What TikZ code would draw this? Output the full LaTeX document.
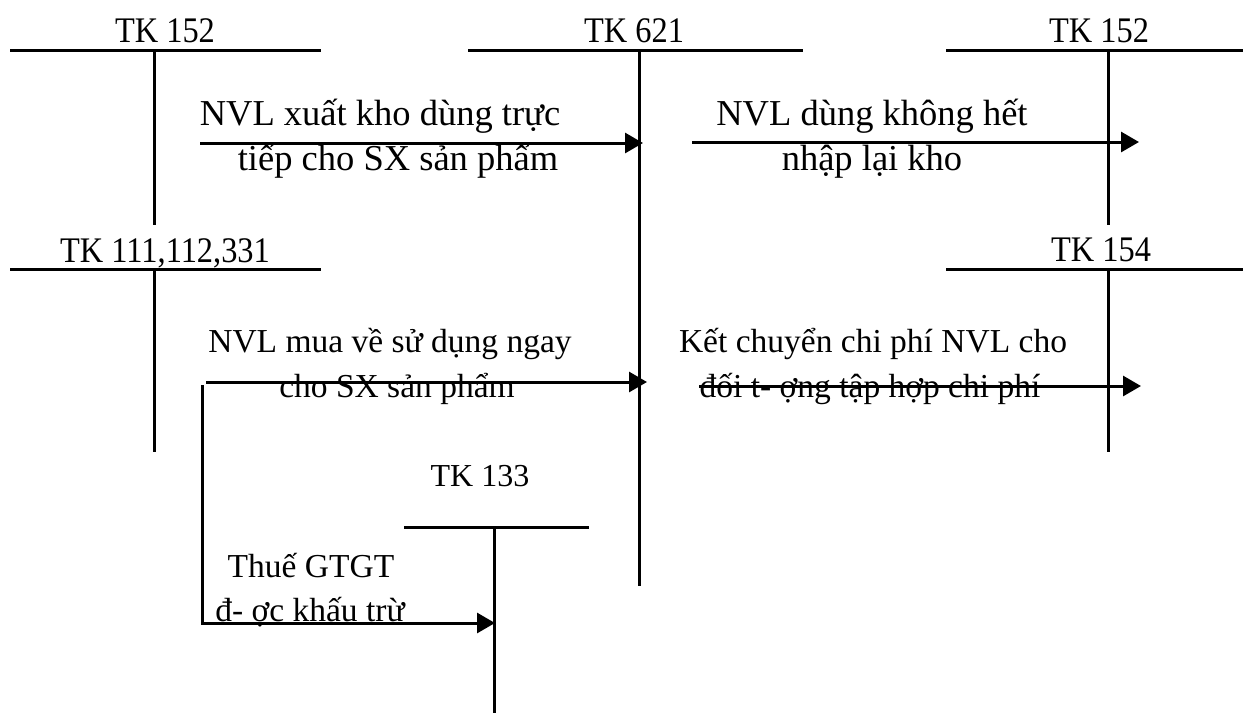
\documentclass[tikz,border=0pt]{standalone}
\usepackage{fontspec}
\setmainfont{Liberation Serif}
\usetikzlibrary{arrows.meta}
\begin{document}
\begin{tikzpicture}[x=1pt,y=-1pt,
  acct/.style={line width=3pt},
  flow/.style={line width=3pt,-{Triangle[length=18pt,width=20pt]}},
  acctname/.style={anchor=base,inner sep=0pt,font=\fontsize{36}{36}\selectfont},
  smallname/.style={anchor=base,inner sep=0pt,font=\fontsize{32}{32}\selectfont},
  bigtext/.style={anchor=base,inner sep=0pt,font=\fontsize{36.5}{36.5}\selectfont},
  midtext/.style={anchor=base,inner sep=0pt,font=\fontsize{33.5}{33.5}\selectfont}]
\useasboundingbox (0,0) rectangle (1243,713);

% T-accounts: top bar and stem
\coordinate (a1l) at (10,50);   \coordinate (a1r) at (321,50);
\coordinate (a1t) at (154,50);  \coordinate (a1b) at (154,225);
\coordinate (a2l) at (468,50);  \coordinate (a2r) at (803,50);
\coordinate (a2t) at (639,50);  \coordinate (a2b) at (639,586);
\coordinate (a3l) at (946,50);  \coordinate (a3r) at (1243,50);
\coordinate (a3t) at (1108,50); \coordinate (a3b) at (1108,225);
\coordinate (a4l) at (10,269);  \coordinate (a4r) at (321,269);
\coordinate (a4t) at (154,269); \coordinate (a4b) at (154,452);
\coordinate (a5l) at (946,269); \coordinate (a5r) at (1243,269);
\coordinate (a5t) at (1108,269);\coordinate (a5b) at (1108,452);
\coordinate (a6l) at (404,527); \coordinate (a6r) at (589,527);
\coordinate (a6t) at (494,527); \coordinate (a6b) at (494,713);

\foreach \k in {1,...,6}{
  \draw[acct] (a\k l) -- (a\k r);
  \draw[acct] (a\k t) -- (a\k b);
}

% account names
\node[acctname] (n1) at (165,42) {\scalebox{0.9}[1]{TK 152}};
\node[acctname] (n2) at (634,42) {\scalebox{0.9}[1]{TK 621}};
\node[acctname] (n3) at (1099,42) {\scalebox{0.9}[1]{TK 152}};
\node[acctname] (n4) at (165,262) {\scalebox{0.9}[1]{TK 111,112,331}};
\node[acctname] (n5) at (1101,261) {\scalebox{0.9}[1]{TK 154}};
\node[smallname] (n6) at (480,486) {TK 133};

% entries
\coordinate (f1s) at (200,143);  \coordinate (f1e) at (643,143);
\coordinate (f2s) at (692,142);  \coordinate (f2e) at (1139,142);
\coordinate (f3s) at (206,382);  \coordinate (f3e) at (647,382);
\coordinate (f5s) at (699,386);  \coordinate (f5e) at (1141,386);
\coordinate (f4s) at (202,385);  \coordinate (f4c) at (202,623);
\coordinate (f4e) at (495,623);

\draw[flow] (f1s) -- (f1e);
\draw[flow] (f2s) -- (f2e);
\draw[flow] (f3s) -- (f3e);
\draw[flow] (f5s) -- (f5e);
\draw[flow] (f4s) -- (f4c) -- (f4e);

% entry descriptions
\node[bigtext] (t1a) at (380,125) {NVL xuất kho dùng trực};
\node[bigtext] (t1b) at (398,170) {tiếp cho SX sản phẩm};
\node[bigtext] (t2a) at (872,125) {NVL dùng không hết};
\node[bigtext] (t2b) at (872,170) {nhập lại kho};
\node[midtext] (t3a) at (390,352) {NVL mua về sử dụng ngay};
\node[midtext] (t3b) at (397,397) {cho SX sản phẩm};
\node[midtext] (t5a) at (873,352) {Kết chuyển chi phí NVL cho};
\node[midtext] (t5b) at (870,397) {đối t- ợng tập hợp chi phí};
\node[midtext] (t4a) at (311,577) {Thuế GTGT};
\node[midtext] (t4b) at (310,621) {đ- ợc khấu trừ};
\end{tikzpicture}
\end{document}
